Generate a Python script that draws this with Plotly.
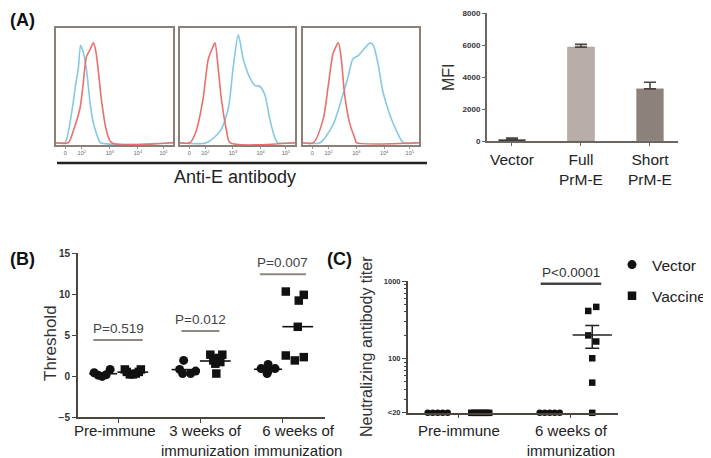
import plotly.graph_objects as go
import numpy as np

# page has an 8px body margin: lay the figure out in screenshot pixels
OFF = 8
W, H = 711 - OFF, 458 - OFF
def px(x): return min(1.0, max(0.0, (x - OFF) / W))
def py(y): return min(1.0, max(0.0, 1 - (y - OFF) / H))

FONT = "Arial, Liberation Sans, Helvetica, sans-serif"
RED = "#e8716f"
BLUE = "#86c9e2"
BOXC = "#8a8078"

# ---------------- Panel A: flow histograms (relative scale 0-100) ----------------
hist_tick_vals = [8, 22, 46, 70, 92]
hist_tick_text = ["0", "10<sup>2</sup>", "10<sup>3</sup>", "10<sup>4</sup>", "10<sup>5</sup>"]

h1_red_x = [0, 10.5, 15, 20.5, 23, 26, 29, 32, 34, 36, 39, 43, 47.6, 100]
h1_red_y = [0, 0, 11, 30, 49, 75, 81, 87, 80, 64, 36, 11, 0, 0]
h1_blue_x = [0, 7.7, 11, 14.8, 17, 19, 21, 23, 26, 29, 31, 33, 36, 38, 100]
h1_blue_y = [0, 0, 12, 36, 52, 64, 85, 80, 64, 36, 22, 13, 4, 0, 0]

h2_red_x = [0, 8.7, 14, 20, 24.6, 28, 30.4, 33, 36, 40.6, 43.5, 100]
h2_red_y = [0, 0, 10, 38, 73, 82, 87, 67, 38, 10, 0, 0]
h2_blue_x = [0, 23, 34.8, 42, 46.4, 50.7, 55, 61, 65, 69.6, 74, 78, 82.6, 85, 100]
h2_blue_y = [0, 0, 10, 30, 67, 94, 73, 56, 50, 49, 41, 21, 4, 0, 0]

h3_red_x = [0, 9, 17.5, 21.8, 26, 30.5, 33, 36, 40.5, 45, 46, 100]
h3_red_y = [0, 0, 21, 50, 78, 87, 73, 41, 16, 3, 0, 0]
h3_blue_x = [0, 14.7, 26, 35, 39, 43, 47.7, 52, 57.8, 60.6, 65, 69, 75, 80.8, 86.5, 100]
h3_blue_y = [0, 0, 16, 44, 58, 73, 76, 81, 87, 85, 67, 44, 24, 10, 0, 0]

# ---------------- Panel A: MFI bars ----------------
mfi_categories = ["Vector", "Full<br>PrM-E", "Short<br>PrM-E"]
mfi_values = [100, 5870, 3260]
mfi_err = [90, 170, 410]
mfi_colors = ["#1a1a1a", "#b9adaa", "#8d817c"]
mfi_ticks = [0, 2000, 4000, 6000, 8000]

# ---------------- Panel B: threshold ----------------
b_groups = ["Pre-immune", "3 weeks of<br>immunization", "6 weeks of<br>immunization"]
b_vector = [
    [0.4, 0.1, -0.05, 0.15, 0.8],
    [1.9, 0.8, 0.3, 0.3, 0.6],
    [1.4, 0.9, 0.9, 0.6, 0.3],
]
b_vaccine = [
    [0.8, 0.5, 0.2, 0.2, 0.3, 0.5, 0.8],
    [2.6, 2.6, 2.2, 1.9, 1.7, 1.5, 0.3],
    [10.3, 9.9, 9.2, 6.0, 2.5, 2.3, 1.9],
]
b_vector_jit = [[-9, -5, -1, 3, 7], [-2, -6, -3, 5, 10], [0, -7, 7, 0, -1]]
b_vaccine_jit = [[-8, -6, -3, 0, 3, 6, 8], [-5, 7, 3, -2, 5, 0, 1], [-12, 6, 1, 0, -12, 6, -3]]
b_label_shift = [-3, 5, 15]
b_pvals = ["P=0.519", "P=0.012", "P=0.007"]
b_pline_y = [4.4, 5.5, 12.4]
b_pline_half = [0.30, 0.23, 0.28]
b_yticks = [-5, 0, 5, 10, 15]

# ---------------- Panel C: neutralizing titer ----------------
c_groups = ["Pre-immune", "6 weeks of<br>immunization"]
c_vector = [[20, 20, 20, 20, 20], [20, 20, 20, 20, 20]]
c_vaccine = [[20, 20, 20, 20, 20, 20, 20], [411, 464, 199, 166, 101, 49, 20]]
c_vector_jit = [[-10, -5, 0, 5, 10], [-10, -5, 0, 5, 10]]
c_vaccine_jit = [[-9, -6, -3, 0, 3, 6, 9], [-4, 4, -4, 4, 0, 0, 0]]
c_pval = "P&lt;0.0001"
c_pline_y = 920
c_yticks = [20, 100, 1000]
c_yticktext = ["&lt;20", "100", "1000"]
c_minor = [30, 40, 50, 60, 70, 80, 90, 200, 300, 400, 500, 600, 700, 800, 900]

fig = go.Figure()

# histograms
hists = [
    (h1_red_x, h1_red_y, h1_blue_x, h1_blue_y, "x", "y"),
    (h2_red_x, h2_red_y, h2_blue_x, h2_blue_y, "x2", "y2"),
    (h3_red_x, h3_red_y, h3_blue_x, h3_blue_y, "x3", "y3"),
]
for rx, ry, bx, by, xa, ya in hists:
    fig.add_trace(go.Scatter(x=bx, y=by, mode="lines",
                             line=dict(color=BLUE, width=1.6, shape="spline", smoothing=0.7),
                             xaxis=xa, yaxis=ya, showlegend=False, hoverinfo="skip"))
    fig.add_trace(go.Scatter(x=rx, y=ry, mode="lines",
                             line=dict(color=RED, width=1.6, shape="spline", smoothing=0.7),
                             xaxis=xa, yaxis=ya, showlegend=False, hoverinfo="skip"))

# MFI bars
fig.add_trace(go.Bar(x=list(range(len(mfi_categories))), y=mfi_values, width=0.39,
                     marker=dict(color=mfi_colors, line=dict(color="#a09590", width=0.5)),
                     error_y=dict(type="data", array=mfi_err, arrayminus=[0, 0, 0], symmetric=False,
                                  color="#4a4440", thickness=1.6, width=6),
                     xaxis="x4", yaxis="y4", showlegend=False))

# Panel B
B_PX = 82.5
for g in range(3):
    vx = [g - 0.18 + j / B_PX for j in b_vector_jit[g]]
    sx = [g + 0.18 + j / B_PX for j in b_vaccine_jit[g]]
    fig.add_trace(go.Scatter(x=[g - 0.18], y=[np.mean(b_vector[g])], mode="markers",
                             marker=dict(symbol="line-ew-open", size=20, color="#111",
                                         line=dict(color="#111", width=1.6)),
                             xaxis="x5", yaxis="y5", showlegend=False, hoverinfo="skip"))
    fig.add_trace(go.Scatter(x=[g + 0.18], y=[np.mean(b_vaccine[g])], mode="markers",
                             marker=dict(symbol="line-ew-open", size=22, color="#111",
                                         line=dict(color="#111", width=1.6)),
                             xaxis="x5", yaxis="y5", showlegend=False, hoverinfo="skip"))
    fig.add_trace(go.Scatter(x=vx, y=b_vector[g], mode="markers", name="Vector",
                             legendgroup="vec", showlegend=(g == 0),
                             marker=dict(symbol="circle", size=9, color="#111"),
                             xaxis="x5", yaxis="y5", cliponaxis=False))
    fig.add_trace(go.Scatter(x=sx, y=b_vaccine[g], mode="markers", name="Vaccine",
                             legendgroup="vac", showlegend=(g == 0),
                             marker=dict(symbol="square", size=8.5, color="#111"),
                             xaxis="x5", yaxis="y5", cliponaxis=False))

# Panel C
C_PX = 112
for g in range(2):
    vx = [g - 0.19 + j / C_PX for j in c_vector_jit[g]]
    sx = [g + 0.19 + j / C_PX for j in c_vaccine_jit[g]]
    vals = np.array(c_vaccine[g], dtype=float)
    sem = vals.std(ddof=1) / np.sqrt(len(vals))
    fig.add_trace(go.Scatter(x=vx, y=c_vector[g], mode="markers", showlegend=False,
                             marker=dict(symbol="circle", size=6.5, color="#111"),
                             xaxis="x6", yaxis="y6", cliponaxis=False))
    fig.add_trace(go.Scatter(x=sx, y=c_vaccine[g], mode="markers", showlegend=False,
                             marker=dict(symbol="square", size=6.5, color="#111"),
                             xaxis="x6", yaxis="y6", cliponaxis=False))
    if sem > 0:
        fig.add_trace(go.Scatter(x=[g + 0.19], y=[vals.mean()], mode="markers", showlegend=False,
                                 marker=dict(symbol="line-ew-open", size=28, color="#222",
                                             line=dict(color="#222", width=1.5)),
                                 error_y=dict(type="data", array=[sem], color="#222", thickness=1.5, width=7),
                                 xaxis="x6", yaxis="y6", hoverinfo="skip"))

shapes = []
annotations = []

# underline and label for histograms
shapes.append(dict(type="line", xref="paper", yref="paper", x0=px(57), x1=px(427), y0=py(163), y1=py(163),
                   line=dict(color="#222", width=2.5)))
annotations.append(dict(text="Anti-E antibody", xref="paper", yref="paper", x=px(235), y=py(177),
                        xanchor="center", yanchor="middle",
                        showarrow=False, font=dict(size=18, color="#222")))

# B x labels
for g in range(3):
    annotations.append(dict(text=b_groups[g], xref="x5", yref="paper", x=g, y=py(420), xshift=b_label_shift[g],
                            xanchor="center", yanchor="top", showarrow=False,
                            font=dict(size=15, color="#222")))

# P-value lines B
for g in range(3):
    shapes.append(dict(type="line", xref="x5", yref="y5", x0=g - b_pline_half[g], x1=g + b_pline_half[g],
                       y0=b_pline_y[g], y1=b_pline_y[g], line=dict(color="#8f8780", width=2)))
    annotations.append(dict(text=b_pvals[g], xref="x5", yref="y5", x=g, y=b_pline_y[g], yanchor="bottom",
                            xanchor="center", yshift=2, showarrow=False, font=dict(size=13.5, color="#444")))
# P-value C
shapes.append(dict(type="line", xref="x6", yref="y6", x0=1 - 0.27, x1=1 + 0.27,
                   y0=c_pline_y, y1=c_pline_y, line=dict(color="#444", width=2.5)))
annotations.append(dict(text=c_pval, xref="x6", yref="y6", x=1, y=np.log10(c_pline_y), yanchor="bottom",
                        xanchor="center", yshift=2, showarrow=False, font=dict(size=13.5, color="#333")))

# panel labels
for lab, x, y in [("(A)", 8, 20), ("(B)", 8, 259), ("(C)", 325, 259)]:
    annotations.append(dict(text="<b>%s</b>" % lab, xref="paper", yref="paper", x=px(x), y=py(y),
                            xanchor="left", yanchor="middle", showarrow=False, font=dict(size=18, color="#111")))
# y titles
for t, x, y, s in [("MFI", 448, 77, 16), ("Threshold", 50, 343, 17), ("Neutralizing antibody titer", 366, 347, 16)]:
    annotations.append(dict(text=t, xref="paper", yref="paper", x=px(x), y=py(y), textangle=-90,
                            xanchor="center", yanchor="middle",
                            showarrow=False, font=dict(size=s, color="#333")))

hist_x = dict(range=[0, 100], showline=True, mirror=True, linecolor=BOXC, linewidth=1.5,
              ticks="outside", ticklen=2, tickcolor="#999", tickvals=hist_tick_vals, ticktext=hist_tick_text,
              tickfont=dict(size=5.5, color="#666"), showgrid=False, zeroline=False, fixedrange=True)
hist_y = dict(range=[-2, 100], showline=True, mirror=True, linecolor=BOXC, linewidth=1.5,
              showticklabels=False, ticks="", showgrid=False, zeroline=False, domain=[py(145), py(28)])

AX = "#4b4540"
layout = dict(
    width=W, height=H, margin=dict(l=0, r=0, t=0, b=0, autoexpand=False),
    paper_bgcolor="white", plot_bgcolor="white",
    font=dict(family=FONT, color="#333"),
    xaxis=dict(hist_x, domain=[px(56), px(173)], anchor="y"),
    yaxis=dict(hist_y, anchor="x"),
    xaxis2=dict(hist_x, domain=[px(180), px(295)], anchor="y2"),
    yaxis2=dict(hist_y, anchor="x2"),
    xaxis3=dict(hist_x, domain=[px(303), px(419)], anchor="y3"),
    yaxis3=dict(hist_y, anchor="x3"),
    xaxis4=dict(domain=[px(487), px(678)], anchor="y4", range=[-0.362, 2.406],
                tickvals=list(range(len(mfi_categories))), ticktext=mfi_categories, tickangle=0,
                showline=True, linecolor="#6b6560", linewidth=2, ticks="outside", ticklen=3,
                tickcolor="#6b6560", tickfont=dict(size=15.5, color="#222"), showgrid=False, zeroline=False),
    yaxis4=dict(domain=[py(141), py(13)], anchor="x4", range=[0, 8000], tickvals=mfi_ticks,
                showline=True, linecolor="#6b6560", linewidth=2, ticks="outside", ticklen=3,
                tickcolor="#6b6560", tickfont=dict(size=8, color="#333", weight="bold"),
                showgrid=False, zeroline=False),
    xaxis5=dict(domain=[px(78), px(325)], anchor="y5", range=[-0.485, 2.51],
                tickvals=[0, 1, 2], showticklabels=False, showline=True, linecolor=AX, linewidth=2,
                ticks="outside", ticklen=4, tickcolor=AX, showgrid=False, zeroline=False),
    yaxis5=dict(domain=[py(417), py(253)], anchor="x5", range=[-5, 15], tickvals=b_yticks,
                showline=True, linecolor=AX, linewidth=2, ticks="outside", ticklen=4, tickcolor=AX,
                tickfont=dict(size=10, color="#333", weight="bold"), showgrid=False, zeroline=False),
    xaxis6=dict(domain=[px(408), px(618)], anchor="y6", range=[-0.455, 1.42],
                tickvals=[0, 1], ticktext=c_groups, tickangle=0, showline=True, linecolor=AX, linewidth=2,
                ticks="outside", ticklen=3, tickcolor=AX, tickfont=dict(size=15, color="#222"),
                showgrid=False, zeroline=False),
    yaxis6=dict(domain=[py(413), py(281)], anchor="x6", type="log", range=[np.log10(19.9), 3],
                tickvals=c_yticks, ticktext=c_yticktext, showline=True, linecolor=AX, linewidth=2,
                ticks="outside", ticklen=4, tickcolor=AX,
                minor=dict(tickvals=c_minor, ticks="outside", ticklen=2, tickcolor=AX, showgrid=False),
                tickfont=dict(size=7.5, color="#333", weight="bold"), showgrid=False, zeroline=False),
    showlegend=True,
    legend=dict(x=1, y=py(248), xanchor="right", yanchor="top", font=dict(size=15.5, color="#222"),
                tracegroupgap=8, bgcolor="rgba(0,0,0,0)", itemsizing="trace"),
    shapes=shapes, annotations=annotations,
)
fig.update_layout(**layout)
fig.write_html("out.html")
